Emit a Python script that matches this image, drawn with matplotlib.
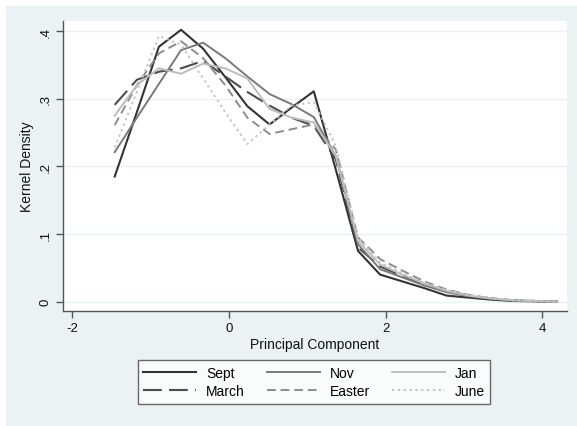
import matplotlib
matplotlib.use("Agg")
import matplotlib.pyplot as plt
import numpy as np
from matplotlib.patches import Rectangle

plt.rcParams['font.family'] = ['Liberation Sans', 'DejaVu Sans']

x_grid = [-1.46, -1.177, -0.895, -0.612, -0.33, -0.047, 0.235, 0.518, 0.80, 1.083,
          1.365, 1.648, 1.93, 2.213, 2.495, 2.778, 3.06, 3.343, 3.625, 3.908, 4.19]

sept = [0.185, 0.28, 0.377, 0.402, 0.374, 0.332, 0.289, 0.262, 0.287, 0.311,
        0.195, 0.075, 0.040, 0.030, 0.020, 0.009, 0.006, 0.003, 0.001, 0.0005, 0.0]
nov = [0.221, 0.272, 0.322, 0.372, 0.383, 0.36, 0.333, 0.307, 0.292, 0.273,
       0.215, 0.085, 0.048, 0.036, 0.024, 0.014, 0.008, 0.004, 0.002, 0.001, 0.0]
jan = [0.275, 0.32, 0.345, 0.337, 0.352, 0.345, 0.33, 0.285, 0.272, 0.265,
       0.215, 0.09, 0.055, 0.040, 0.027, 0.016, 0.009, 0.005, 0.002, 0.001, 0.0]
march = [0.291, 0.328, 0.34, 0.345, 0.356, 0.333, 0.31, 0.29, 0.272, 0.26,
         0.21, 0.08, 0.052, 0.038, 0.026, 0.016, 0.009, 0.005, 0.002, 0.001, 0.0]
easter = [0.261, 0.32, 0.367, 0.385, 0.36, 0.32, 0.272, 0.248, 0.255, 0.262,
          0.225, 0.095, 0.063, 0.046, 0.030, 0.018, 0.010, 0.005, 0.002, 0.001, 0.0]
june = [0.228, 0.31, 0.393, 0.38, 0.33, 0.28, 0.233, 0.262, 0.29, 0.295,
        0.23, 0.095, 0.058, 0.042, 0.028, 0.017, 0.010, 0.005, 0.002, 0.001, 0.0]

x_ticks = [-2, 0, 2, 4]
y_ticks = [0, 0.1, 0.2, 0.3, 0.4]
y_tick_labels = ["0", ".1", ".2", ".3", ".4"]

W, H = 577, 427
fig = plt.figure(figsize=(W / 100, H / 100), dpi=100, facecolor='white')
bg = Rectangle((6 / W, 0), 1 - 6 / W, 1 - 7 / H, transform=fig.transFigure,
               facecolor='#eaf2f3', edgecolor='none', zorder=-10)
fig.patches.append(bg)

ax = fig.add_axes([63 / W, 1 - 312 / H, (567 - 63) / W, (312 - 22) / H])
ax.set_facecolor('white')

ax.plot(x_grid, sept, color='#333333', lw=1.5, label='Sept')
ax.plot(x_grid, march, color='#4d4d4d', lw=1.5, dashes=(9, 3.5), label='March')
ax.plot(x_grid, nov, color='#7a7a7a', lw=1.4, label='Nov')
ax.plot(x_grid, easter, color='#8c8c8c', lw=1.4, dashes=(4.5, 2.5), label='Easter')
ax.plot(x_grid, jan, color='#bdbdbd', lw=1.4, label='Jan')
ax.plot(x_grid, june, color='#c4c4c4', lw=1.4, dashes=(1.2, 1.8), label='June')

ax.set_xlim(-2.12, 4.317)
ax.set_ylim(-0.0138, 0.415)
ax.set_xticks(x_ticks)
ax.set_xticklabels([str(t) for t in x_ticks])
ax.set_yticks(y_ticks)
ax.set_yticklabels(y_tick_labels, rotation=90, va='center')

for yt in y_ticks:
    ax.axhline(yt, color='#eaf2f3', lw=1.0, zorder=0)

for s in ['top', 'right']:
    ax.spines[s].set_visible(False)
for s in ['left', 'bottom']:
    ax.spines[s].set_color('#555555')
    ax.spines[s].set_linewidth(1.0)
ax.tick_params(axis='both', direction='out', length=5, width=1.0, color='#555555',
               labelsize=9.5, labelcolor='#111111', pad=3)

ax.set_xlabel('Principal Component', fontsize=10, color='#111111', labelpad=2)
ax.set_ylabel('Kernel Density', fontsize=10, color='#111111', labelpad=4)

leg = fig.legend(loc='center', bbox_to_anchor=(314 / W, 1 - 383 / H), ncol=3,
                 fontsize=10, frameon=True, fancybox=False, handlelength=3.8,
                 handletextpad=0.7, columnspacing=1.6, borderpad=0.4,
                 labelspacing=0.3)
leg.get_frame().set_edgecolor('#444444')
leg.get_frame().set_linewidth(1.0)
leg.get_frame().set_facecolor('white')

fig.savefig('out.png', dpi=100, facecolor=fig.get_facecolor())
